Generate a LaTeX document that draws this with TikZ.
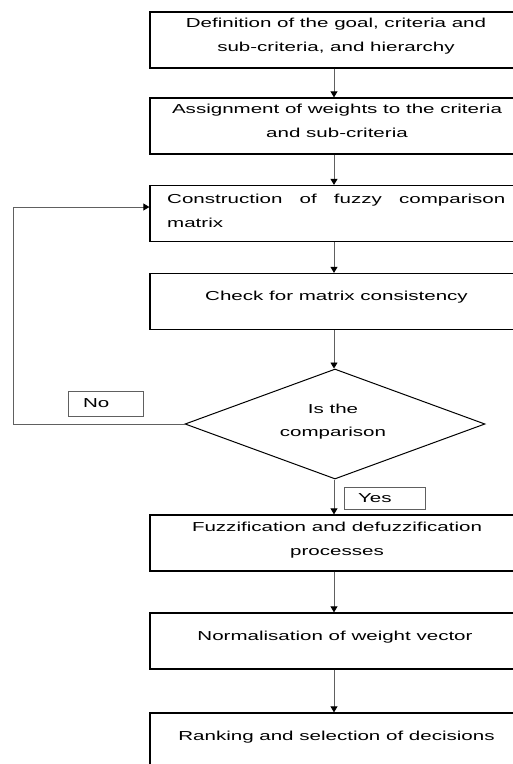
\documentclass[tikz,border=0pt]{standalone}
\usepackage{graphicx}
\usepackage{fontspec}
\setmainfont{Liberation Sans}
\usetikzlibrary{arrows.meta,shapes.geometric}
\newcommand\sx[1]{\scalebox{1.58}[1]{#1}}
\definecolor{conncol}{HTML}{606060}
\begin{document}
\begin{tikzpicture}[x=1pt,y=-1pt,
  box/.style={draw=black,line width=1.3pt,minimum width=368pt,minimum height=56pt,inner sep=0pt},
  txt/.style={align=center,font=\fontsize{13}{24}\selectfont,inner sep=0pt},
  lbl/.style={draw=conncol,line width=0.8pt,inner sep=0pt,font=\fontsize{13}{16}\selectfont},
  dia/.style={diamond,draw=black,line width=1pt,minimum width=300pt,minimum height=110pt,inner sep=0pt},
  conn/.style={draw=conncol,line width=0.9pt,-{Triangle[width=7pt,length=6pt,fill=black,color=black]}}]
\useasboundingbox (0,0) rectangle (513,764);
\clip (0,0) rectangle (513,764);
\fill[white] (0,0) rectangle (513,764);
% boxes
\node[box] (b1) at (334,40) {};
\node[box] (b2) at (334,126) {};
\node[box] (b3) at (334,213.5) {};
\node[box] (b4) at (334,301.5) {};
\node[dia] (d) at (335,424) {};
\node[box] (b5) at (334,543) {};
\node[box] (b6) at (334,641) {};
\node[box] (b7) at (334,741) {};
% texts
\node[txt] (t1) at (336,36) {\sx{Definition of the goal, criteria and}\\\sx{sub-criteria, and hierarchy}};
\node[txt] (t2) at (337,120.5) {\sx{Assignment of weights to the criteria}\\\sx{and sub-criteria}};
\node[txt,align=left,anchor=west] (t3) at (167,211) {\sx{\makebox[214pt][s]{Construction of fuzzy comparison}}\\\sx{matrix}};
\node[txt] (t4) at (336.5,297) {\sx{Check for matrix consistency}};
\node[txt,font=\fontsize{13}{23}\selectfont] (td) at (333,421.5) {\sx{Is the}\\\sx{comparison}};
\node[txt] (t5) at (337,540) {\sx{Fuzzification and defuzzification}\\\sx{processes}};
\node[txt] (t6) at (335,637) {\sx{Normalisation of weight vector}};
\node[txt] (t7) at (336.5,737) {\sx{Ranking and selection of decisions}};
% labels
\node[lbl,minimum width=75pt,minimum height=25pt] (no) at (105.5,403.5) {\makebox[45pt][l]{\sx{No}}};
\node[lbl,minimum width=81pt,minimum height=22pt] (yes) at (384.5,498) {\makebox[53pt][l]{\sx{Yes}}};
% connectors
\draw[conn] (b1.south) -- (b2.north);
\draw[conn] (b2.south) -- (b3.north);
\draw[conn] (b3.south) -- (b4.north);
\draw[conn] (b4.south) -- (d.north -| b4.south);
\draw[conn] (d.south -| b5.north) -- (b5.north);
\draw[conn] (b5.south) -- (b6.north);
\draw[conn] (b6.south) -- (b7.north);
\coordinate (loop) at (13,207);
\draw[conn] (d.west) -| (loop) -- (b3.west |- loop);
\end{tikzpicture}
\end{document}
